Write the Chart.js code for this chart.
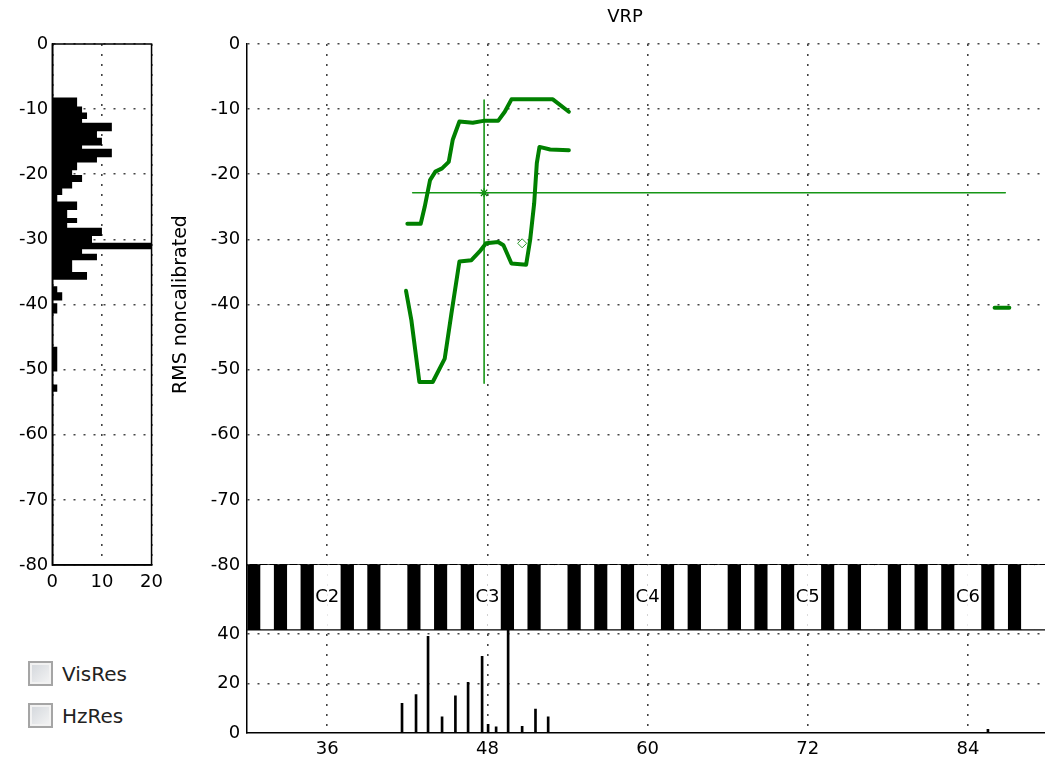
<!DOCTYPE html>
<html>
<head>
<meta charset="utf-8">
<title>VRP</title>
<script src="https://cdn.jsdelivr.net/npm/chart.js@4.4.1/dist/chart.umd.min.js"></script>
<style>
  html, body { margin: 0; padding: 0; background: #fff; overflow: hidden; width: 1045px; height: 764px; }
  body { position: relative; font-family: "DejaVu Sans", sans-serif; color: #000; }
  #hist { position: absolute; left: 0; top: 0; }
  #vrp  { position: absolute; left: 165px; top: 0; }
  .title { position: absolute; left: 525px; top: 5px; width: 200px; text-align: center; font-size: 18px; line-height: 22px; }
  .opt { position: absolute; left: 28px; display: flex; align-items: center; font-size: 20px; color: #222; }
  .box {
    width: 21px; height: 21px; margin-right: 9px;
    border: 2px solid #a5a5a5;
    box-shadow: inset 0 0 0 2px #f2f2f2;
    background: linear-gradient(135deg, #d2d6db, #f5f5f5);
  }
</style>
</head>
<body>
<canvas id="hist" width="170" height="600"></canvas>
<canvas id="vrp" width="883" height="764"></canvas>
<div class="title">VRP</div>
<div class="opt" style="top:661px"><span class="box"></span>VisRes</div>
<div class="opt" style="top:703px"><span class="box"></span>HzRes</div>

<script>
'use strict';

// ── Data ─────────────────────────────────────────────────────────────
// upper / lower contour of the voice range profile (semitone, dB)
const upperNotes  = [42.0, 43.0, 43.3, 43.7, 44.1, 44.6, 45.1, 45.4, 45.9, 46.9, 47.7, 48.8, 49.3, 49.8, 52.9, 54.1];
const upperLevels = [-27.6, -27.6, -25.0, -20.9, -19.6, -19.1, -18.1, -14.7, -11.9, -12.1, -11.8, -11.8, -10.4, -8.5, -8.5, -10.4];
const lowerNotes  = [41.9, 42.3, 42.9, 43.9, 44.8, 45.3, 45.9, 46.8, 47.4, 47.9, 48.8, 49.2, 49.8, 50.9, 51.2, 51.5, 51.7, 51.9, 52.7, 54.1];
const lowerLevels = [-37.9, -42.4, -51.9, -51.9, -48.3, -41.4, -33.4, -33.2, -31.9, -30.6, -30.4, -30.9, -33.7, -33.9, -30.1, -24.5, -18.3, -15.8, -16.2, -16.3];
const strayNotes  = [86.0, 87.1];
const strayLevels = [-40.5, -40.5];

// cursor crosshair
const cursorNote   = 47.75;
const cursorLevel  = -22.85;
const cursorHNotes = [42.4, 86.8];
const cursorVLevels = [-8.6, -52.1];
const markerNote  = 50.6;
const markerLevel = -30.6;

// level histogram (left panel): bin edges in dB and counts
const histEdges  = [-8.2, -9.6, -10.5, -11.5, -12.1, -13.4, -14.4, -15.6, -16.1, -17.4, -18.2, -19.4, -20.1, -21.2,
                    -22.2, -23.2, -24.2, -25.5, -26.7, -27.5, -28.2, -29.5, -30.5, -31.5, -32.2, -33.2, -35.0, -36.2,
                    -37.2, -38.1, -39.4, -39.8, -41.4, -46.5, -50.3, -52.3, -53.4];
const histCounts = [5, 6, 7, 6, 12, 9, 10, 6, 12, 9, 5, 4, 6, 4, 2, 1, 5, 3, 5, 3, 10, 8, 21, 6, 9, 4, 7, 0, 1, 2, 0, 1, 0, 1, 0, 1];

// pitch histogram (bottom strip)
const pitchNotes  = [41.6, 42.65, 43.55, 44.6, 45.6, 46.55, 47.6, 48.05, 48.65, 49.55, 50.6, 51.6, 52.55, 85.5];
const pitchCounts = [12, 15.5, 39, 6.5, 15, 20.5, 31, 3.5, 2.5, 41.6, 2.7, 9.7, 6.5, 1.5];

// keyboard / axes
const keyFirst = 30;
const keyLast  = 89;
const blackPitchClasses = [1, 3, 6, 8, 10];
const octaveNotes = [36, 48, 60, 72, 84];
const octaveNames = ['C2', 'C3', 'C4', 'C5', 'C6'];
const noteTicks   = [36, 48, 60, 72, 84];
const levelTicks  = [0, -10, -20, -30, -40, -50, -60, -70, -80];
const countTicks  = [0, 20, 40];
const histTicks   = [0, 10, 20];

// ── Style ────────────────────────────────────────────────────────────
const FONT  = '"DejaVu Sans", sans-serif';
const GREEN = '#008000';
const DOT_COLOR = '#444';
const TICK_FONT = { family: FONT, size: 18 };
const KEY_W = 801 / 60;   // one semitone in px

const dotted = { color: DOT_COLOR, lineWidth: 1.6, offset: false };
const axisBorder = { color: '#000', width: 1.5, dash: [2, 8] };
const setTicks = vals => scale => { scale.ticks = vals.map(v => ({ value: v })); };

const pts = (xs, ys) => xs.map((x, i) => ({ x, y: ys[i] }));

// ── Left: level histogram ────────────────────────────────────────────
const histOutline = [{ x: 0, y: histEdges[0] }];
histCounts.forEach((c, i) => {
  histOutline.push({ x: c, y: histEdges[i] }, { x: c, y: histEdges[i + 1] });
});
histOutline.push({ x: 0, y: histEdges[histEdges.length - 1] });

const boxPlugin = {
  id: 'box',
  afterDraw(chart) {
    const { ctx, chartArea: a } = chart;
    ctx.save();
    ctx.strokeStyle = '#000';
    ctx.lineWidth = 1.5;
    ctx.strokeRect(a.left, a.top, a.right - a.left, a.bottom - a.top);
    ctx.restore();
  },
};

new Chart(document.getElementById('hist'), {
  type: 'scatter',
  data: {
    datasets: [{
      data: histOutline,
      showLine: true,
      fill: 'shape',
      backgroundColor: '#000',
      borderWidth: 0,
      pointRadius: 0,
      tension: 0,
    }],
  },
  options: {
    responsive: false,
    animation: false,
    layout: { autoPadding: false, padding: { top: 44, right: 17.7 } },
    plugins: { legend: { display: false }, tooltip: { enabled: false } },
    scales: {
      x: {
        type: 'linear', min: 0, max: 20,
        afterBuildTicks: setTicks(histTicks),
        afterFit: s => { s.height = 35; },
        ticks: { font: TICK_FONT, color: '#000', padding: 7, maxRotation: 0 },
        grid: { ...dotted, drawTicks: false },
        border: axisBorder,
      },
      y: {
        type: 'linear', min: -80, max: 0,
        afterBuildTicks: setTicks(levelTicks),
        afterFit: s => { s.width = 52.3; },
        ticks: { font: TICK_FONT, color: '#000', padding: 4 },
        grid: { ...dotted, drawTicks: false },
        border: axisBorder,
      },
    },
  },
  plugins: [boxPlugin],
});

// ── Right: VRP + keyboard + pitch histogram ──────────────────────────
const keyNotes = [];
for (let n = keyFirst; n <= keyLast; n++) keyNotes.push(n);
const isBlack = n => blackPitchClasses.includes(((n % 12) + 12) % 12);

const keyLabelPlugin = {
  id: 'keyLabels',
  afterDraw(chart) {
    const { ctx, scales: { x, yKeys } } = chart;
    const yMid = (yKeys.top + yKeys.bottom) / 2;
    ctx.save();
    ctx.font = `18px ${FONT}`;
    ctx.fillStyle = '#000';
    ctx.textAlign = 'center';
    ctx.textBaseline = 'middle';
    octaveNotes.forEach((n, i) => ctx.fillText(octaveNames[i], x.getPixelForValue(n), yMid));
    ctx.restore();
  },
};

const lineDs = (data, width, color) => ({
  type: 'line', yAxisID: 'y', data,
  borderColor: color, borderWidth: width, borderJoinStyle: 'round', borderCapStyle: 'round',
  pointRadius: 0, tension: 0, fill: false,
});

new Chart(document.getElementById('vrp'), {
  type: 'line',
  data: {
    datasets: [
      lineDs(pts(upperNotes, upperLevels), 4, GREEN),
      lineDs(pts(lowerNotes, lowerLevels), 4, GREEN),
      lineDs(pts(strayNotes, strayLevels), 4, GREEN),
      lineDs(pts(cursorHNotes, [cursorLevel, cursorLevel]), 1.6, '#169616'),
      lineDs(pts([cursorNote, cursorNote], cursorVLevels), 1.6, '#169616'),
      {
        type: 'line', yAxisID: 'y', showLine: false,
        data: [{ x: cursorNote, y: cursorLevel }],
        pointStyle: 'star', pointRadius: 4.5, borderColor: GREEN, borderWidth: 1.2,
      },
      {
        type: 'line', yAxisID: 'y', showLine: false,
        data: [{ x: markerNote, y: markerLevel }],
        pointStyle: 'rectRot', pointRadius: 4.5, borderColor: '#2a9a2a',
        backgroundColor: 'rgba(0,0,0,0)', borderWidth: 1,
      },
      {
        type: 'bar', yAxisID: 'yBars', grouped: false,
        data: pts(pitchNotes, pitchCounts),
        backgroundColor: '#000', barThickness: 2, borderWidth: 0,
      },
      {
        type: 'bar', yAxisID: 'yKeys', grouped: false,
        data: keyNotes.map(n => ({ x: n + 0.5, y: 1 })),
        backgroundColor: keyNotes.map(n => (isBlack(n) ? '#000' : '#fff')),
        barThickness: KEY_W, borderWidth: 0, inflateAmount: 0,
      },
    ],
  },
  options: {
    responsive: false,
    animation: false,
    layout: { autoPadding: false, padding: { top: 44 } },
    plugins: { legend: { display: false }, tooltip: { enabled: false } },
    scales: {
      x: {
        type: 'linear', min: 30, max: 90, offset: false,
        afterBuildTicks: setTicks(noteTicks),
        afterFit: s => { s.height = 31; s.paddingLeft = 0; s.paddingRight = 0; },
        ticks: { font: TICK_FONT, color: '#000', padding: 6, maxRotation: 0 },
        grid: { ...dotted, drawTicks: false },
        border: axisBorder,
      },
      yBars: {
        type: 'linear', position: 'left', stack: 'v', stackWeight: 103, weight: 1,
        min: 0, max: 41.6,
        afterBuildTicks: setTicks(countTicks),
        afterFit: s => { s.width = 82.2; },
        ticks: { font: TICK_FONT, color: '#000', padding: 7 },
        grid: { color: c => (c.tick && c.tick.value === 0 ? 'rgba(0,0,0,0)' : DOT_COLOR), lineWidth: 1.6, drawTicks: false },
        border: axisBorder,
      },
      yKeys: {
        type: 'linear', position: 'left', stack: 'v', stackWeight: 65, weight: 2,
        min: 0, max: 1, z: 1,
        afterBuildTicks: setTicks([0, 1]),
        afterFit: s => { s.width = 82.2; },
        ticks: { display: false },
        grid: { color: '#000', lineWidth: 1.5, drawTicks: false },
        border: { color: '#000', width: 1.5 },
      },
      y: {
        type: 'linear', position: 'left', stack: 'v', stackWeight: 521, weight: 3,
        min: -80, max: 0,
        afterBuildTicks: setTicks(levelTicks),
        afterFit: s => { s.width = 82.2; },
        ticks: { font: TICK_FONT, color: '#000', padding: 7 },
        grid: { ...dotted, drawTicks: false },
        border: axisBorder,
        title: {
          display: true, text: 'RMS noncalibrated', color: '#000',
          font: { family: FONT, size: 19 }, padding: { top: 5, bottom: 0 },
        },
      },
    },
  },
  plugins: [keyLabelPlugin],
});
</script>
</body>
</html>
